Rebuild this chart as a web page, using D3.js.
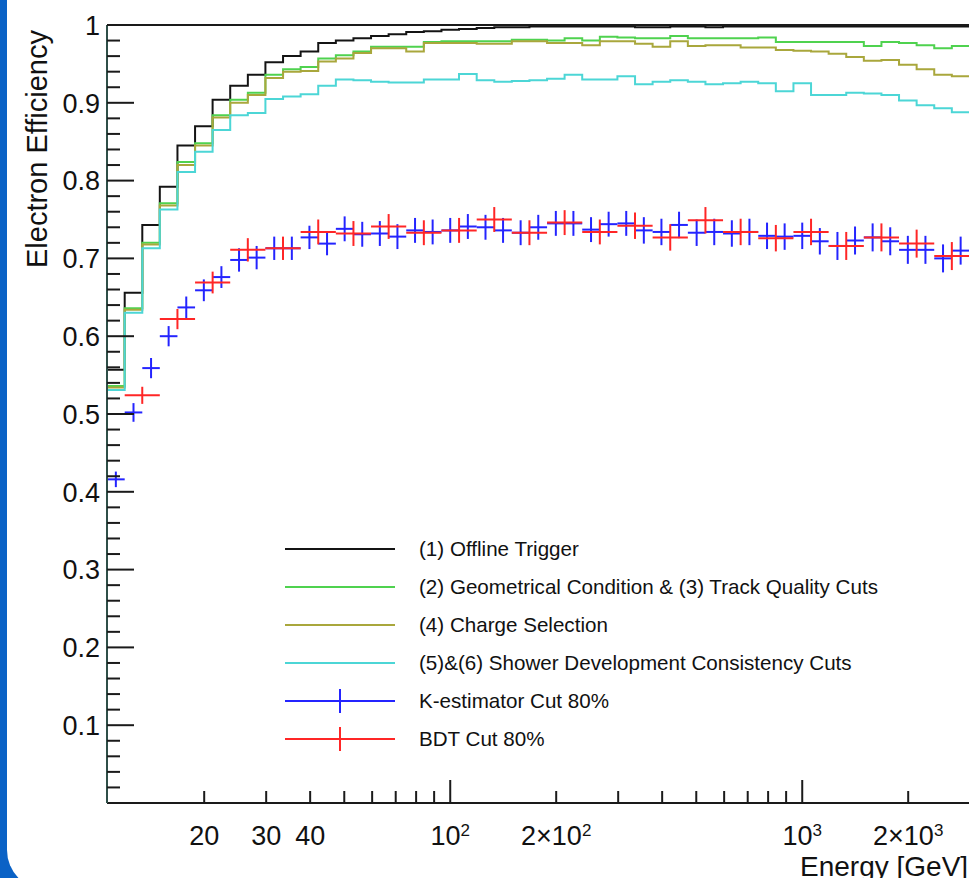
<!DOCTYPE html>
<html>
<head>
<meta charset="utf-8">
<script src="https://cdn.jsdelivr.net/npm/d3@7"></script>
<style>
  html, body { margin: 0; padding: 0; background: #0a62c6; overflow: hidden; }
  text { font-family: "Liberation Sans", Arial, Helvetica, sans-serif; fill: #111; }
</style>
</head>
<body>
<div id="chart"></div>
<script>
// size of the picture
const width = 969
const height = 878

// energy bin edges [GeV]
const binEdges = [10.59, 11.89, 13.34, 14.96, 16.79, 18.84, 21.13, 23.71, 26.61, 29.85,
    33.50, 37.58, 42.17, 47.32, 53.09, 59.57, 66.83, 74.99, 84.14, 94.41,
    105.9, 118.9, 133.4, 149.6, 167.9, 188.4, 211.3, 237.1, 266.1, 298.5,
    335.0, 375.8, 421.7, 473.2, 530.9, 595.7, 668.3, 749.9, 841.4, 944.1,
    1059.3, 1188.5, 1333.5, 1496.2, 1678.8, 1883.6, 2113.5, 2371.4, 2660.7, 2985.4]
// wider bins used by the BDT points
const bdtEdges = [11.89, 14.96, 18.84, 23.71, 29.85, 37.58, 47.32, 59.57, 74.99, 94.41,
    118.9, 149.6, 188.4, 237.1, 298.5, 375.8, 473.2, 595.7, 749.9, 944.1,
    1188.5, 1496.2, 1883.6, 2371.4, 2985.4]

// efficiency per bin for each cut
const offlineTrigger = [0.557, 0.656, 0.743, 0.792, 0.845, 0.870, 0.904, 0.922, 0.936, 0.952,
    0.960, 0.966, 0.977, 0.980, 0.983, 0.986, 0.988, 0.991, 0.992, 0.994,
    0.995, 0.996, 0.997, 0.997, 0.998, 0.998, 0.998, 0.998, 0.998, 0.998,
    0.997, 0.997, 0.998, 0.998, 0.997, 0.998, 0.998, 0.998, 0.998, 0.998,
    0.998, 0.998, 0.998, 0.998, 0.998, 0.998, 0.998, 0.998, 0.998]
const geomTrackCuts = [0.536, 0.636, 0.720, 0.771, 0.824, 0.848, 0.884, 0.904, 0.913, 0.936,
    0.943, 0.946, 0.957, 0.961, 0.966, 0.972, 0.972, 0.972, 0.978, 0.979,
    0.979, 0.979, 0.979, 0.981, 0.981, 0.980, 0.983, 0.980, 0.985, 0.984,
    0.983, 0.983, 0.986, 0.983, 0.983, 0.983, 0.983, 0.984, 0.978, 0.978,
    0.978, 0.978, 0.978, 0.973, 0.978, 0.977, 0.974, 0.970, 0.973]
const chargeSelection = [0.534, 0.634, 0.718, 0.768, 0.820, 0.845, 0.881, 0.900, 0.910, 0.932,
    0.940, 0.941, 0.953, 0.957, 0.964, 0.970, 0.970, 0.966, 0.977, 0.977,
    0.977, 0.976, 0.976, 0.979, 0.979, 0.977, 0.977, 0.974, 0.979, 0.979,
    0.976, 0.972, 0.979, 0.973, 0.974, 0.974, 0.971, 0.971, 0.968, 0.967,
    0.966, 0.963, 0.959, 0.954, 0.955, 0.949, 0.943, 0.936, 0.934]
const showerCuts = [0.531, 0.630, 0.713, 0.763, 0.811, 0.837, 0.865, 0.884, 0.887, 0.905,
    0.908, 0.911, 0.922, 0.930, 0.929, 0.927, 0.926, 0.926, 0.930, 0.930,
    0.937, 0.929, 0.927, 0.928, 0.929, 0.931, 0.936, 0.930, 0.930, 0.934,
    0.924, 0.927, 0.929, 0.927, 0.924, 0.925, 0.927, 0.925, 0.915, 0.925,
    0.910, 0.910, 0.913, 0.912, 0.910, 0.903, 0.897, 0.893, 0.888]

// K-estimator points (one per bin) and their errors
const kEstimator = [0.416, 0.502, 0.559, 0.600, 0.637, 0.659, 0.676, 0.698, 0.701, 0.713,
    0.713, 0.727, 0.719, 0.738, 0.731, 0.732, 0.728, 0.736, 0.734, 0.736,
    0.741, 0.740, 0.736, 0.733, 0.740, 0.745, 0.745, 0.737, 0.744, 0.745,
    0.736, 0.734, 0.743, 0.733, 0.734, 0.732, 0.734, 0.729, 0.728, 0.729,
    0.722, 0.716, 0.723, 0.727, 0.722, 0.711, 0.711, 0.700, 0.710]
const kEstimatorErr = [0.010, 0.012, 0.013, 0.013, 0.014, 0.014, 0.014, 0.015, 0.015, 0.015,
    0.015, 0.015, 0.015, 0.016, 0.016, 0.016, 0.016, 0.016, 0.016, 0.016,
    0.016, 0.016, 0.016, 0.016, 0.016, 0.016, 0.016, 0.016, 0.016, 0.016,
    0.017, 0.017, 0.017, 0.017, 0.017, 0.017, 0.017, 0.017, 0.017, 0.017,
    0.017, 0.018, 0.018, 0.018, 0.018, 0.018, 0.018, 0.018, 0.018]

// BDT points (one per wide bin) and their errors
const bdtCut = [0.524, 0.622, 0.669, 0.711, 0.713, 0.734, 0.732, 0.741, 0.733, 0.736,
    0.750, 0.733, 0.746, 0.734, 0.742, 0.727, 0.749, 0.734, 0.726, 0.734,
    0.716, 0.727, 0.719, 0.703]
const bdtErr = [0.011, 0.013, 0.014, 0.015, 0.015, 0.016, 0.016, 0.016, 0.016, 0.016,
    0.016, 0.016, 0.016, 0.016, 0.017, 0.017, 0.017, 0.017, 0.017, 0.017,
    0.018, 0.018, 0.018, 0.018]

// axis ticks and labels
const yTicks = [0.1, 0.2, 0.3, 0.4, 0.5, 0.6, 0.7, 0.8, 0.9, 1]
const yTickLabels = ["0.1", "0.2", "0.3", "0.4", "0.5", "0.6", "0.7", "0.8", "0.9", "1"]
const xDecadeTicks = [100, 1000]
const xSmallTicks = [20, 30, 40, 50, 60, 70, 80, 90, 200, 300, 400, 500, 600, 700, 800, 900, 2000, 3000]
const xLabelValues = [20, 30, 40, 100, 200, 1000, 2000]
const xLabelBase = ["20", "30", "40", "10", "2\u00d710", "10", "2\u00d710"]
const xLabelPower = ["", "", "", "2", "2", "3", "3"]

const legendLabels = ["(1) Offline Trigger",
    "(2) Geometrical Condition & (3) Track Quality Cuts",
    "(4) Charge Selection",
    "(5)&(6) Shower Development Consistency Cuts",
    "K-estimator Cut 80%",
    "BDT Cut 80%"]
const colors = ["#141414", "#4fd24f", "#a9a73c", "#4cd6d6", "#2424ff", "#ff2626"]

// plot frame
const plotLeft = 107, plotTop = 25, plotBottom = 803

const svg = d3.select("#chart")
    .append("svg")
    .attr("width", width)
    .attr("height", height)
    .style("display", "block")

// blue frame and white card
svg.append("rect").attr("width", width).attr("height", height).attr("fill", "#0a62c6")
svg.append("rect")
    .attr("x", 7).attr("y", -60)
    .attr("width", 1100).attr("height", 950)
    .attr("rx", 40)
    .attr("fill", "white")

// scales: log energy (352 px per decade), linear efficiency
const xMax = 5000
const x = d3.scaleLog()
    .domain([binEdges[0], xMax])
    .range([plotLeft, plotLeft + 352 * Math.log10(xMax / binEdges[0])])
const y = d3.scaleLinear()
    .domain([0, 1])
    .range([plotBottom, plotTop])

// histograms, drawn as steps starting from zero at the first edge
const stepLine = d3.line()
    .x(d => x(d[0]))
    .y(d => y(d[1]))
    .curve(d3.curveStepAfter)

const histos = [offlineTrigger, geomTrackCuts, chargeSelection, showerCuts]
histos.forEach(function (vals, i) {
    const pts = [[binEdges[0], 0]]
    vals.forEach((v, k) => pts.push([binEdges[k], v]))
    pts.push([binEdges[vals.length], vals[vals.length - 1]])
    svg.append("path")
        .attr("d", stepLine(pts))
        .attr("fill", "none")
        .attr("stroke", colors[i])
        .attr("stroke-width", 2)
})

// points with horizontal bin-width bars and vertical error bars
function drawPoints(vals, errs, edges, color) {
    const g = svg.append("g").attr("stroke", color).attr("stroke-width", 2)
    vals.forEach(function (v, k) {
        const lo = edges[k], hi = edges[k + 1]
        const xc = x(Math.sqrt(lo * hi))
        g.append("line")
            .attr("x1", x(lo)).attr("x2", x(hi))
            .attr("y1", y(v)).attr("y2", y(v))
        g.append("line")
            .attr("x1", xc).attr("x2", xc)
            .attr("y1", y(v - errs[k])).attr("y2", y(v + errs[k]))
    })
}
drawPoints(kEstimator, kEstimatorErr, binEdges, colors[4])
drawPoints(bdtCut, bdtErr, bdtEdges, colors[5])

// frame lines
const axisColor = "#1a1a1a"
svg.append("line")
    .attr("x1", plotLeft).attr("x2", width + 10)
    .attr("y1", plotTop).attr("y2", plotTop)
    .attr("stroke", axisColor).attr("stroke-width", 2)
svg.append("line")
    .attr("x1", plotLeft).attr("x2", width + 10)
    .attr("y1", plotBottom).attr("y2", plotBottom)
    .attr("stroke", axisColor).attr("stroke-width", 2)
svg.append("line")
    .attr("x1", plotLeft).attr("x2", plotLeft)
    .attr("y1", plotTop).attr("y2", plotBottom)
    .attr("stroke", "#2f4f48").attr("stroke-width", 2)

// y axis: major ticks every 0.1, minor every 0.02
const yMinor = d3.range(1, 50).map(i => i * 0.02).filter(v => Math.abs(v * 10 - Math.round(v * 10)) > 1e-6)
svg.append("g").selectAll("line")
    .data(yMinor)
    .join("line")
    .attr("x1", plotLeft).attr("x2", plotLeft + 13)
    .attr("y1", d => y(d)).attr("y2", d => y(d))
    .attr("stroke", axisColor).attr("stroke-width", 2)
svg.append("g").selectAll("line")
    .data(yTicks)
    .join("line")
    .attr("x1", plotLeft).attr("x2", plotLeft + 27)
    .attr("y1", d => y(d)).attr("y2", d => y(d))
    .attr("stroke", axisColor).attr("stroke-width", 2)
svg.append("g").selectAll("text")
    .data(yTicks)
    .join("text")
    .attr("x", plotLeft - 7)
    .attr("y", d => y(d))
    .attr("dy", "0.36em")
    .attr("text-anchor", "end")
    .style("font-size", "27px")
    .text((d, i) => yTickLabels[i])

// x axis ticks
svg.append("g").selectAll("line")
    .data(xSmallTicks)
    .join("line")
    .attr("x1", d => x(d)).attr("x2", d => x(d))
    .attr("y1", plotBottom).attr("y2", plotBottom - 12)
    .attr("stroke", axisColor).attr("stroke-width", 2)
svg.append("g").selectAll("line")
    .data(xDecadeTicks)
    .join("line")
    .attr("x1", d => x(d)).attr("x2", d => x(d))
    .attr("y1", plotBottom).attr("y2", plotBottom - 23)
    .attr("stroke", axisColor).attr("stroke-width", 2)

const xLabels = svg.append("g").selectAll("text")
    .data(xLabelValues)
    .join("text")
    .attr("x", d => x(d))
    .attr("y", 845)
    .attr("text-anchor", "middle")
    .style("font-size", "27px")
xLabels.append("tspan").text((d, i) => xLabelBase[i])
xLabels.append("tspan")
    .attr("dy", "-0.55em")
    .style("font-size", "17px")
    .text((d, i) => xLabelPower[i])

// axis titles
svg.append("text")
    .attr("x", 800)
    .attr("y", 876)
    .style("font-size", "28px")
    .text("Energy [GeV]")
svg.append("text")
    .attr("transform", "translate(47,30) rotate(-90)")
    .attr("text-anchor", "end")
    .style("font-size", "29px")
    .text("Electron Efficiency")

// legend
const legend = svg.append("g")
legendLabels.forEach(function (label, i) {
    const ly = 549 + i * 38
    legend.append("line")
        .attr("x1", 285).attr("x2", 395)
        .attr("y1", ly).attr("y2", ly)
        .attr("stroke", colors[i]).attr("stroke-width", 2)
    if (i >= 4) {
        legend.append("line")
            .attr("x1", 340).attr("x2", 340)
            .attr("y1", ly - 12).attr("y2", ly + 12)
            .attr("stroke", colors[i]).attr("stroke-width", 2)
    }
    legend.append("text")
        .attr("x", 419)
        .attr("y", ly)
        .attr("dy", "0.36em")
        .style("font-size", "20.6px")
        .text(label)
})
</script>
</body>
</html>
